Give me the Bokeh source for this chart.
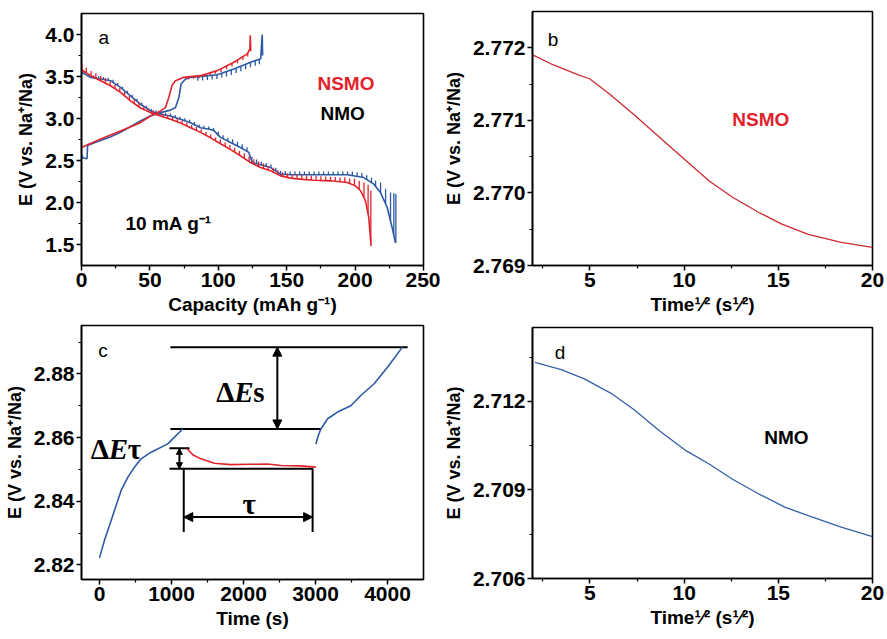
import numpy as np
from bokeh.plotting import figure
from bokeh.layouts import row, column
from bokeh.models import FixedTicker, Range1d, Label, Arrow, NormalHead, PrintfTickFormatter
from bokeh.embed import file_html
from bokeh.resources import INLINE

# ---------------- data: panel a (GITT profiles) ----------------
nsmo_dis_cap = [0, 6.6, 14, 21.2, 28.5, 35.8, 43.1, 50.4, 57.7, 65, 72.4, 79.7, 87, 94.4, 101.6, 109,
                116.2, 123.5, 130.8, 138.2, 145.5, 152.8, 160, 170, 182, 194.2, 200.3, 204, 207.6, 210, 211.7]
nsmo_dis_E = [3.58, 3.51, 3.45, 3.39, 3.31, 3.21, 3.125, 3.07, 3.03, 2.99, 2.945, 2.89, 2.835, 2.77, 2.70, 2.63,
              2.556, 2.476, 2.416, 2.377, 2.317, 2.29, 2.278, 2.265, 2.258, 2.238, 2.198, 2.14, 2.02, 1.82, 1.48]
nmo_dis_cap = [0, 6.6, 14, 21.2, 28.5, 35.8, 43.1, 50.4, 57.7, 65, 72.4, 79.7, 87, 94.4, 96.8, 101.6, 109,
               116.2, 122.3, 124.8, 130.8, 138.2, 145.5, 152.8, 165, 180, 194.2, 206.4, 213.7, 218.6, 223.5, 227.1, 229.5]
nmo_dis_E = [3.55, 3.49, 3.47, 3.45, 3.37, 3.27, 3.17, 3.09, 3.05, 3.03, 2.99, 2.95, 2.89, 2.87, 2.855, 2.775, 2.715,
             2.655, 2.596, 2.476, 2.449, 2.416, 2.337, 2.33, 2.33, 2.33, 2.33, 2.297, 2.218, 2.118, 1.94, 1.70, 1.52]
nsmo_chg_cap = [0, 14, 28.5, 43, 50.4, 57.7, 61.4, 63.8, 66.3, 68.7, 74.8, 87, 99.2, 111.4, 121.2, 123.1, 123.4, 123.7]
nsmo_chg_E = [2.655, 2.755, 2.85, 2.95, 3.03, 3.09, 3.13, 3.25, 3.40, 3.45, 3.49, 3.51, 3.57, 3.67, 3.77, 3.83, 3.99, 3.80]
nmo_chg_cap = [0, 1.2, 4.0, 4.5, 9.4, 21, 28.5, 43, 50.4, 57.7, 65, 68.7, 71.2, 72.8, 76, 79.7, 99.2, 111.4,
               123.6, 131, 132.1, 132.4]
nmo_chg_E = [2.58, 2.53, 2.52, 2.68, 2.71, 2.78, 2.835, 2.97, 3.03, 3.07, 3.10, 3.13, 3.25, 3.41, 3.47, 3.49, 3.52, 3.59,
             3.67, 3.71, 4.0, 3.75]

# relaxation spikes (capacity, height in V)
nsmo_dis_spk_cap = [0.3, 3.5, 7, 10.5, 14, 17.5, 21, 24.5, 28, 31.5, 35, 38.5, 42, 45.5, 49, 52.5, 56, 59.5,
                    63, 66.5, 70, 73.5, 77, 80.5, 84, 87.5, 91, 94.5, 98, 101.5, 105, 108.5, 112, 115.5, 119,
                    122.5, 126, 129.5, 133, 136.5, 140, 143.5, 147, 150.5, 154, 157.5, 161, 164.5, 168, 171.5,
                    175, 178.5, 182, 185.5, 189, 192.5, 196, 199.5, 203, 206.5, 209.5, 211.5]
nsmo_dis_spk_h = [0.08, 0.06, 0.06, 0.06, 0.06, 0.06, 0.05, 0.05, 0.05, 0.05, 0.05, 0.05, 0.05, 0.04, 0.04, 0.04,
                  0.04, 0.04, 0.04, 0.04, 0.04, 0.04, 0.04, 0.04, 0.04, 0.04, 0.04, 0.04, 0.04, 0.05, 0.05, 0.05,
                  0.05, 0.05, 0.06, 0.06, 0.06, 0.06, 0.06, 0.05, 0.05, 0.05, 0.05, 0.05, 0.05, 0.05, 0.05, 0.05,
                  0.05, 0.05, 0.05, 0.05, 0.05, 0.05, 0.05, 0.06, 0.06, 0.08, 0.10, 0.18, 0.35, 0.62]
nmo_dis_spk_cap = [2, 5.5, 9, 12.5, 16, 19.5, 23, 26.5, 30, 33.5, 37, 40.5, 44, 47.5, 51, 54.5, 58, 61.5, 65,
                   68.5, 72, 75.5, 79, 82.5, 86, 89.5, 93, 96.5, 100, 103.5, 107, 110.5, 114, 117.5, 121, 124.5,
                   128, 131.5, 135, 138.5, 142, 145.5, 149, 152.5, 156, 159.5, 163, 166.5, 170, 173.5, 177,
                   180.5, 184, 187.5, 191, 194.5, 198, 201.5, 205, 208.5, 212, 215, 218.6, 222.3, 225.9, 228.3, 229.8]
nmo_dis_spk_h = [0.03, 0.03, 0.03, 0.03, 0.03, 0.03, 0.03, 0.03, 0.03, 0.03, 0.03, 0.03, 0.03, 0.03, 0.03,
                 0.03, 0.03, 0.03, 0.03, 0.03, 0.03, 0.03, 0.03, 0.03, 0.03, 0.03, 0.03, 0.03, 0.04, 0.04, 0.04,
                 0.05, 0.05, 0.05, 0.05, 0.05, 0.05, 0.04, 0.04, 0.04, 0.04, 0.04, 0.04, 0.04, 0.04, 0.04, 0.04,
                 0.04, 0.04, 0.04, 0.04, 0.04, 0.04, 0.04, 0.04, 0.04, 0.05, 0.05, 0.05, 0.05, 0.06, 0.07, 0.12,
                 0.18, 0.34, 0.50, 0.58]
nsmo_chg_spk_cap = [78, 82, 86, 90, 94, 98, 102, 106, 110, 114, 118, 121.5]
nsmo_chg_spk_h = [0.03, 0.03, 0.03, 0.03, 0.03, 0.03, 0.04, 0.04, 0.04, 0.04, 0.04, 0.04]
nmo_chg_spk_cap = [85, 88.5, 92, 95.5, 99, 102.5, 106, 109.5, 113, 116.5, 120, 123.5, 127, 130]
nmo_chg_spk_h = [0.05, 0.05, 0.05, 0.05, 0.05, 0.05, 0.06, 0.06, 0.06, 0.06, 0.06, 0.06, 0.06, 0.06]

# ---------------- data: panel b / d ----------------
b_t = [1.99, 3.0, 4.35, 5.0, 6.1, 7.33, 8.72, 10.12, 11.35, 12.57, 13.97, 15.19, 16.59, 18.34, 20.0]
b_E = [2.7719, 2.77177, 2.77163, 2.77157, 2.77135, 2.77108, 2.77076, 2.77044, 2.77016, 2.76994, 2.76973,
       2.76957, 2.76943, 2.76932, 2.76925]
d_t = [2.08, 3.48, 4.7, 6.1, 7.33, 8.72, 10.12, 11.35, 12.57, 13.97, 15.37, 16.59, 18.34, 20.0]
d_E = [2.71332, 2.71307, 2.71276, 2.71228, 2.71172, 2.71099, 2.71032, 2.70987, 2.70936, 2.70886, 2.70841,
       2.70813, 2.70774, 2.70742]

# ---------------- data: panel c ----------------
c_pulse1_t = [0, 69, 162, 300, 393, 485, 578, 717, 948, 1156]
c_pulse1_E = [2.8222, 2.8277, 2.8339, 2.8434, 2.8475, 2.8507, 2.8533, 2.8554, 2.858, 2.8627]
c_relax_t = [1215, 1300, 1410, 1595, 1827, 2100, 2335, 2520, 2797, 3005]
c_relax_E = [2.8565, 2.8545, 2.8533, 2.8519, 2.8515, 2.8516, 2.8517, 2.8512, 2.8511, 2.8507]
c_pulse2_t = [3005, 3040, 3075, 3168, 3306, 3491, 3629, 3814, 4000, 4207]
c_pulse2_E = [2.858, 2.8607, 2.8627, 2.8659, 2.868, 2.870, 2.8732, 2.8769, 2.8821, 2.8884]
# annotation guide lines: (t0, E0, t1, E1)
c_guide_t0 = [985, 985, 972, 972, 1170, 2960]
c_guide_E0 = [2.8884, 2.8627, 2.8566, 2.8502, 2.8502, 2.8502]
c_guide_t1 = [4280, 3075, 1250, 2968, 1170, 2960]
c_guide_E1 = [2.8884, 2.8627, 2.8566, 2.8502, 2.8303, 2.8303]

RED = "#e2222b"
BLUE = "#2c5aa5"
SANS = "Liberation Sans"
SERIF = "Liberation Serif"


def make_fig(w, h, xr, yr, bl, br, bt, bb):
    p = figure(width=w, height=h, x_range=Range1d(*xr), y_range=Range1d(*yr),
               toolbar_location=None, output_backend="svg",
               min_border_left=bl, min_border_right=br, min_border_top=bt, min_border_bottom=bb)
    p.xgrid.visible = False
    p.ygrid.visible = False
    p.outline_line_color = "black"
    p.outline_line_width = 1.6
    p.outline_line_alpha = 1.0
    p.background_fill_color = "white"
    p.border_fill_color = "white"
    for ax in (p.xaxis[0], p.yaxis[0]):
        ax.axis_line_width = 1.6
        ax.major_tick_out = 5
        ax.major_tick_in = 0
        ax.minor_tick_out = 3
        ax.minor_tick_in = 0
        ax.major_tick_line_width = 1.5
        ax.minor_tick_line_width = 1.2
        ax.major_label_text_font = SANS
        ax.major_label_text_font_style = "bold"
        ax.major_label_text_font_size = "21px"
        ax.major_label_text_color = "black"
        ax.major_label_standoff = 2
        ax.axis_label_text_font = SANS
        ax.axis_label_text_font_style = "bold"
        ax.axis_label_text_font_size = "18px"
        ax.axis_label_text_color = "black"
        ax.axis_label_standoff = 6
    p.xaxis[0].axis_label_text_font_size = "19px"
    p.xaxis[0].axis_label_standoff = 4
    return p


def set_ticks(axis, major, minor, fmt):
    axis.ticker = FixedTicker(ticks=major, minor_ticks=minor)
    axis.formatter = PrintfTickFormatter(format=fmt)


def label(p, x, y, text, size="19px", color="black", style="bold", font=SANS, xoff=0, align="left"):
    p.add_layout(Label(x=x, y=y, text=text, text_font=font, text_font_size=size,
                       text_font_style=style, text_color=color, text_baseline="middle",
                       text_align=align, x_offset=xoff))


YLAB = "E (V vs. Na\u207a/Na)"
TLAB = "Time\u00b9\u2044\u00b2 (s\u00b9\u2044\u00b2)"

# ---------------- panel a ----------------
pa = make_fig(440, 320, (0, 250), (1.25, 4.25), 81, 17, 13, 55)
set_ticks(pa.xaxis[0], [0, 50, 100, 150, 200, 250], [25, 75, 125, 175, 225], "%d")
set_ticks(pa.yaxis[0], [1.5, 2.0, 2.5, 3.0, 3.5, 4.0], [1.75, 2.25, 2.75, 3.25, 3.75], "%.1f")
pa.xaxis.axis_label = "Capacity (mAh g\u207b\u00b9)"
pa.yaxis.axis_label = YLAB


def curve_with_spikes(p, cap, E, spk_cap, spk_h, sign, color):
    p.line(cap, E, line_color=color, line_width=1.6)
    base = np.interp(spk_cap, cap, E)
    top = base + sign * np.array(spk_h)
    p.segment(x0=spk_cap, y0=base, x1=spk_cap, y1=top, line_color=color, line_width=1.3)


curve_with_spikes(pa, nmo_dis_cap, nmo_dis_E, nmo_dis_spk_cap, nmo_dis_spk_h, 1, BLUE)
curve_with_spikes(pa, nmo_chg_cap, nmo_chg_E, nmo_chg_spk_cap, nmo_chg_spk_h, -1, BLUE)
curve_with_spikes(pa, nsmo_dis_cap, nsmo_dis_E, nsmo_dis_spk_cap, nsmo_dis_spk_h, 1, RED)
curve_with_spikes(pa, nsmo_chg_cap, nsmo_chg_E, nsmo_chg_spk_cap, nsmo_chg_spk_h, -1, RED)

label(pa, 12.4, 3.96, "a", style="normal")
label(pa, 172.5, 3.415, "NSMO", color=RED)
label(pa, 174.7, 3.057, "NMO")
label(pa, 32.2, 1.745, "10 mA g\u207b\u00b9")

# ---------------- panel b ----------------
pb = make_fig(447, 320, (1.95, 20), (2.769, 2.7725), 87, 15, 11, 55)
set_ticks(pb.xaxis[0], [5, 10, 15, 20], [2.5, 7.5, 12.5, 17.5], "%d")
set_ticks(pb.yaxis[0], [2.769, 2.770, 2.771, 2.772], [2.7695, 2.7705, 2.7715], "%.3f")
pb.xaxis.axis_label = TLAB
pb.yaxis.axis_label = YLAB
pb.line(b_t, b_E, line_color="#cc2a30", line_width=1.3)
label(pb, 2.76, 2.77212, "b", style="normal")
label(pb, 12.56, 2.771014, "NSMO", color=RED)

# ---------------- panel c ----------------
pc = make_fig(440, 319, (-250, 4500), (2.8154, 2.8952), 80, 17, 5, 60)
set_ticks(pc.xaxis[0], [0, 1000, 2000, 3000, 4000], [500, 1500, 2500, 3500], "%d")
set_ticks(pc.yaxis[0], [2.82, 2.84, 2.86, 2.88], [2.83, 2.85, 2.87, 2.89], "%.2f")
pc.xaxis.axis_label = "Time (s)"
pc.yaxis.axis_label = YLAB
pc.segment(x0=c_guide_t0, y0=c_guide_E0, x1=c_guide_t1, y1=c_guide_E1, line_color="black", line_width=2)
pc.line(c_pulse1_t, c_pulse1_E, line_color=BLUE, line_width=1.6)
pc.line(c_relax_t, c_relax_E, line_color=RED, line_width=1.6)
pc.line(c_pulse2_t, c_pulse2_E, line_color=BLUE, line_width=1.6)


def darrow(p, x0, y0, x1, y1, size):
    p.add_layout(Arrow(x_start=x0, y_start=y0, x_end=x1, y_end=y1, line_width=2, line_color="black",
                       start=NormalHead(size=size, fill_color="black", line_color="black"),
                       end=NormalHead(size=size, fill_color="black", line_color="black")))


darrow(pc, 2470, 2.8884, 2470, 2.8627, 9)
darrow(pc, 1110, 2.8566, 1110, 2.8502, 6)
darrow(pc, 1170, 2.835, 2960, 2.835, 9)

label(pc, -18, 2.8875, "c", style="normal")
label(pc, 1621, 2.8742, "\u0394", size="29px", font=SERIF, style="bold")
label(pc, 1621, 2.8742, "E", size="29px", font=SERIF, style="bold italic", xoff=18)
label(pc, 1621, 2.8742, "s", size="29px", font=SERIF, style="bold", xoff=37)
label(pc, -122, 2.8565, "\u0394", size="29px", font=SERIF, style="bold")
label(pc, -122, 2.8565, "E", size="29px", font=SERIF, style="bold italic", xoff=18)
label(pc, -122, 2.8565, "\u03c4", size="29px", font=SERIF, style="bold", xoff=37)
label(pc, 2080, 2.8392, "\u03c4", size="29px", font=SERIF, style="bold", align="center")

# ---------------- panel d ----------------
pd_ = make_fig(447, 319, (1.95, 20), (2.706, 2.7145), 87, 15, 7, 61)
set_ticks(pd_.xaxis[0], [5, 10, 15, 20], [2.5, 7.5, 12.5, 17.5], "%d")
set_ticks(pd_.yaxis[0], [2.706, 2.709, 2.712], [2.7075, 2.7105, 2.7135], "%.3f")
pd_.xaxis.axis_label = TLAB
pd_.yaxis.axis_label = YLAB
pd_.line(d_t, d_E, line_color="#3560a8", line_width=1.3)
label(pd_, 3.13, 2.71366, "d", style="normal")
label(pd_, 14.25, 2.71077, "NMO")

layout = row(column(pa, pc), column(pb, pd_))
open("out.html", "w").write(file_html(layout, INLINE))
